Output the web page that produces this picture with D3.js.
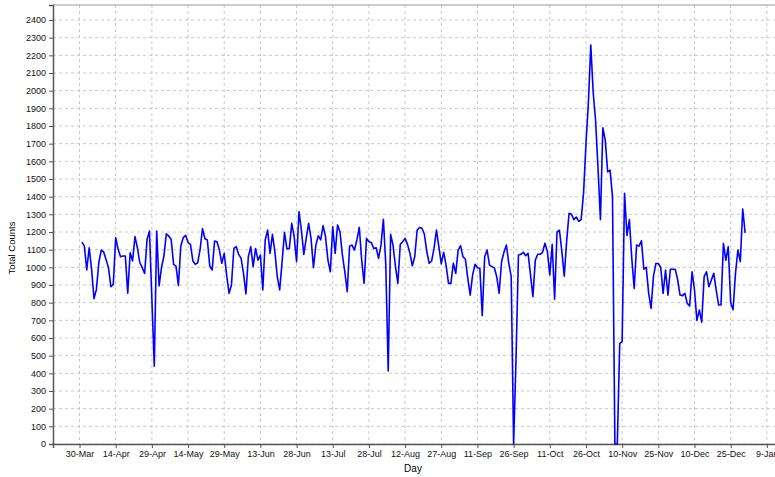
<!DOCTYPE html>
<html>
<head>
<meta charset="utf-8">
<script src="https://cdn.jsdelivr.net/npm/d3@7"></script>
<style>
  html, body { margin: 0; padding: 0; background: #fff; }
  svg { display: block; font-family: "Liberation Sans", Arial, sans-serif; }
  .grid line { stroke: #c8c8c8; stroke-dasharray: 3,3; }
  .axis text { font-size: 9px; fill: #111; }
  .axis path, .axis line { stroke: #555; }
</style>
</head>
<body>
<svg id="chart"></svg>
<script>
// daily counts, 31-Mar .. 31-Dec
const countsMar = [1143]
const countsApr = [1120, 985, 1111, 990, 823, 875, 1026, 1098, 1087, 1045, 998, 890, 904, 1168, 1102,
  1060, 1064, 1064, 853, 1083, 1036, 1174, 1111, 1026, 998, 966, 1158, 1206, 820, 440]
const countsMay = [1206, 895, 1000, 1064, 1190, 1177, 1158, 1017, 1007, 898, 1121, 1168, 1181, 1140, 1130,
  1036, 1017, 1026, 1102, 1219, 1162, 1155, 1007, 985, 1149, 1145, 1098, 1023, 1079, 957, 853]
const countsJun = [900, 1107, 1117, 1073, 1051, 966, 849, 1060, 1117, 1004, 1107, 1041, 1070, 872, 1155,
  1211, 1079, 1187, 1089, 947, 872, 1032, 1198, 1104, 1107, 1249, 1174, 1032, 1315, 1211]
const countsJul = [1073, 1164, 1249, 1164, 998, 1126, 1179, 1155, 1236, 1174, 1041, 975, 1230, 1079, 1240,
  1202, 1070, 975, 862, 1120, 1126, 1098, 1155, 1226, 1041, 909, 1164, 1145, 1140, 1107, 1111]
const countsAug = [1051, 1126, 1272, 1013, 413, 1187, 1126, 1004, 909, 1130, 1145, 1164, 1130, 1079, 1009,
  1060, 1211, 1226, 1221, 1187, 1089, 1023, 1036, 1107, 1211, 1117, 1020, 1085, 1013, 909, 909]
const countsSep = [1023, 966, 1098, 1123, 1060, 1047, 938, 843, 957, 1017, 998, 994, 726, 1060, 1098,
  1013, 1004, 998, 947, 853, 1032, 1085, 1126, 1023, 947, 0, 480, 1070, 1074, 1085]
const countsOct = [1066, 1079, 957, 834, 1041, 1074, 1074, 1085, 1136, 1089, 957, 1130, 820, 1200, 1210,
  1090, 950, 1150, 1306, 1300, 1270, 1285, 1260, 1270, 1420, 1700, 1930, 2258, 1990, 1830, 1560]
const countsNov = [1270, 1790, 1720, 1540, 1550, 1400, 0, 0, 570, 580, 1419, 1180, 1270, 1050, 880,
  1126, 1120, 1150, 990, 1000, 853, 768, 950, 1022, 1022, 1000, 853, 985, 843, 989]
const countsDec = [989, 989, 932, 843, 840, 853, 796, 781, 975, 872, 700, 758, 690, 947, 975,
  890, 928, 966, 872, 787, 787, 1136, 1040, 1117, 800, 760, 966, 1098, 1032, 1330, 1195]

const firstDay = new Date(2010, 2, 31)
const xDomain = [new Date(2010, 2, 19), new Date(2011, 0, 13)]
const tickStart = new Date(2010, 2, 30)
const yTicks = d3.range(0, 2401, 100)

const counts = [].concat(countsMar, countsApr, countsMay, countsJun, countsJul,
  countsAug, countsSep, countsOct, countsNov, countsDec)
const data = counts.map((v, i) => ({ date: d3.timeDay.offset(firstDay, i), value: v }))

const width = 775
const height = 477
const margin = { top: 5, left: 53, bottom: 33 }
const dayPx = 2.4116
const plotW = d3.timeDay.count(xDomain[0], xDomain[1]) * dayPx
const plotH = height - margin.top - margin.bottom

const svg = d3.select('#chart')
  .attr('width', width)
  .attr('height', height)

const x = d3.scaleTime()
  .domain(xDomain)
  .range([0, plotW])

// 2400 sits a little below the top frame
const y = d3.scaleLinear()
  .domain([0, 2485])
  .range([plotH, 0])

const xTicks = d3.timeDay.range(tickStart, new Date(2011, 0, 12), 15)

const g = svg.append('g')
  .attr('transform', `translate(${margin.left},${margin.top})`)

// grid
g.append('g')
  .attr('class', 'grid')
  .selectAll('line.h')
  .data(yTicks)
  .enter().append('line')
  .attr('x1', 0)
  .attr('x2', plotW)
  .attr('y1', d => y(d))
  .attr('y2', d => y(d))

g.append('g')
  .attr('class', 'grid')
  .selectAll('line.v')
  .data(xTicks)
  .enter().append('line')
  .attr('x1', d => x(d))
  .attr('x2', d => x(d))
  .attr('y1', 0)
  .attr('y2', plotH)

// frame top
g.append('line')
  .attr('x1', 0)
  .attr('x2', plotW)
  .attr('y1', 0)
  .attr('y2', 0)
  .attr('stroke', '#999')

g.append('g')
  .attr('class', 'axis')
  .attr('transform', `translate(0,${plotH})`)
  .call(d3.axisBottom(x)
    .tickValues(xTicks)
    .tickSize(4)
    .tickPadding(3)
    .tickFormat(d3.timeFormat('%-d-%b')))

g.append('g')
  .attr('class', 'axis')
  .call(d3.axisLeft(y)
    .tickValues(yTicks)
    .tickSize(4)
    .tickPadding(3)
    .tickFormat(d3.format('d')))

g.selectAll('.axis .domain').attr('stroke-width', 1.5)

const line = d3.line()
  .x(d => x(d.date))
  .y(d => y(d.value))

g.append('path')
  .datum(data)
  .attr('fill', 'none')
  .attr('stroke', '#0000ff')
  .attr('stroke-width', 1.6)
  .attr('stroke-linejoin', 'round')
  .attr('d', line)

// axis titles
svg.append('text')
  .attr('transform', 'translate(15,248) rotate(-90)')
  .attr('text-anchor', 'middle')
  .style('font-size', '9.5px')
  .text('Total Counts')

svg.append('text')
  .attr('x', 413)
  .attr('y', 472)
  .attr('text-anchor', 'middle')
  .style('font-size', '10px')
  .text('Day')
</script>
</body>
</html>
